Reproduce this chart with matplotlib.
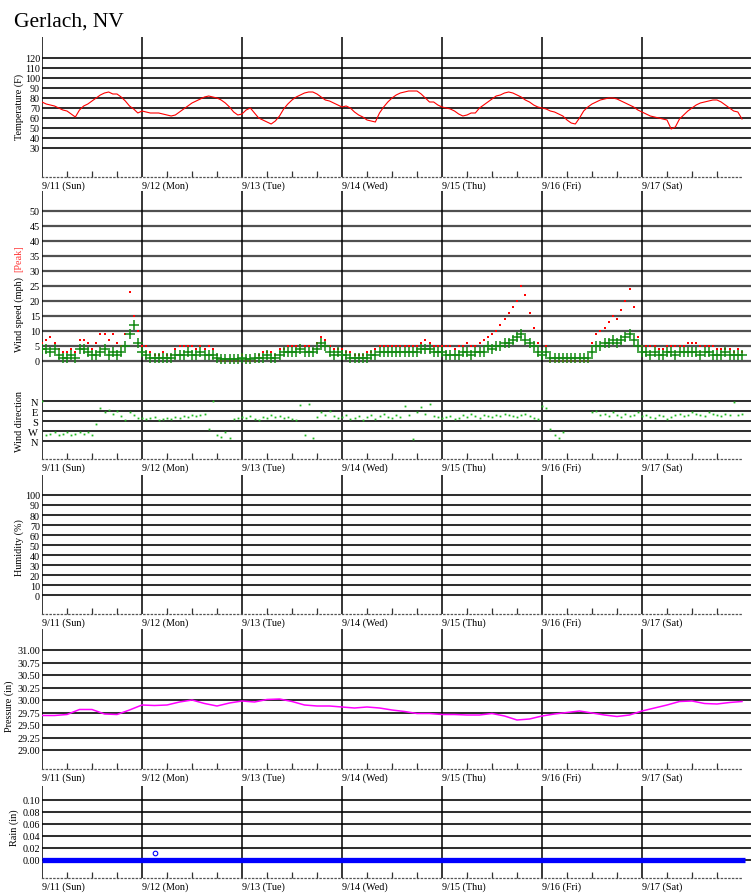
import numpy as np
import matplotlib
matplotlib.use("Agg")
import matplotlib.pyplot as plt
from matplotlib.ticker import FixedLocator

plt.rcParams['font.family'] = ['Liberation Serif', 'DejaVu Serif']

# ---------------- data ----------------
title = "Gerlach, NV"
day_labels = ["9/11 (Sun)", "9/12 (Mon)", "9/13 (Tue)", "9/14 (Wed)",
              "9/15 (Thu)", "9/16 (Fri)", "9/17 (Sat)"]

# hourly temperature (F), 9/11 00:00 .. 9/18 00:00
temp_f = [
    76, 74, 73, 72, 70, 68, 67, 64, 61, 68, 72, 74, 77, 80, 83, 85, 86, 84, 84, 81, 77, 72, 69, 65,
    67, 66, 65, 65, 65, 64, 63, 62, 63, 66, 69, 72, 75, 77, 79, 81, 82, 81, 80, 78, 75, 71, 66, 63,
    64, 68, 70, 65, 60, 58, 56, 54, 57, 62, 69, 74, 78, 81, 83, 85, 86, 86, 84, 81, 78, 77, 75, 73,
    71, 72, 70, 66, 63, 61, 58, 57, 56, 65, 71, 76, 80, 83, 85, 86, 87, 87, 87, 84, 80, 76, 76, 73,
    71, 70, 69, 67, 64, 62, 63, 65, 65, 70, 73, 76, 79, 82, 83, 85, 86, 85, 83, 81, 78, 76, 73, 71,
    70, 69, 67, 66, 64, 62, 58, 55, 54, 60, 67, 71, 74, 76, 78, 79, 80, 80, 79, 77, 75, 73, 71, 68,
    66, 64, 62, 61, 60, 59, 58, 49, 51, 59, 63, 67, 70, 73, 75, 76, 77, 78, 78, 76, 73, 70, 67, 66,
    59,
]

# hourly average wind speed (mph)
wind_avg = [
    4, 4, 3, 4, 2, 1, 1, 2, 1, 4, 4, 3, 2, 2, 3, 4, 2, 3, 2, 3, 5, 9, 12, 6,
    3, 2, 1, 1, 1, 1, 1, 1, 2, 2, 2, 3, 2, 2, 3, 2, 2, 2, 1, 0.5, 0.5, 0.5, 0.5, 0.5,
    1, 0.5, 0.5, 1, 1, 1, 2, 1, 1, 2, 3, 3, 3, 3, 4, 3, 3, 3, 4, 6, 5, 3, 2, 3,
    2, 2, 1, 1, 1, 1, 1, 2, 2, 3, 3, 3, 3, 3, 3, 3, 3, 3, 3, 4, 4, 4, 3, 3,
    3, 2, 2, 2, 2, 3, 3, 2, 3, 3, 3, 5, 4, 5, 5, 6, 6, 7, 8, 9, 7, 6, 5, 3,
    2, 3, 1, 1, 1, 1, 1, 1, 1, 1, 1, 1, 3, 5, 5, 6, 6, 7, 6, 7, 8, 9, 7, 5,
    3, 3, 2, 3, 2, 2, 3, 3, 2, 3, 3, 3, 3, 3, 2, 3, 3, 2, 2, 2, 3, 2, 2, 2,
    2,
]

# hourly peak wind speed (mph)
wind_peak = [
    6, 7, 8, 6, 4, 3, 3, 4, 3, 7, 7, 6, 4, 6, 9, 9, 7, 9, 6, 5, 9, 23, 15, 10,
    5, 5, 3, 2, 2, 3, 2, 2, 4, 5, 5, 5, 5, 4, 5, 4, 5, 4, 2, 0, 0, 0, 0, 0,
    2, 0, 0, 0, 2, 3, 3, 3, 2, 4, 4, 5, 5, 5, 5, 5, 5, 4, 6, 8, 7, 5, 4, 4,
    4, 3, 3, 2, 2, 2, 3, 3, 4, 5, 5, 5, 5, 5, 5, 5, 5, 5, 5, 6, 7, 6, 5, 5,
    5, 5, 5, 4, 5, 5, 6, 5, 5, 6, 7, 8, 9, 10, 12, 14, 16, 18, 20, 25, 22, 16, 11, 6,
    3, 5, 0, 0, 0, 0, 0, 0, 0, 0, 0, 0, 6, 9, 10, 11, 13, 15, 14, 17, 20, 24, 18, 8,
    5, 5, 5, 5, 4, 4, 5, 5, 5, 5, 5, 6, 6, 6, 5, 5, 5, 5, 4, 4, 4, 4, 3, 4,
    3,
]

nan = float("nan")
# hourly wind direction (degrees from north)
wind_dir = [
    0, 300, 290, 280, 300, 290, 280, 300, 290, 280, 290, 280, 300, 200, 60, 100, 80, 110, 90, 130, 170, 100, 120, 150,
    150, 160, 150, 140, 170, 160, 150, 160, 140, 150, 130, 140, 120, 130, 120, 110, 250, 0, 300, 320, 280, 330, 160, 150,
    140, 150, 130, 160, 170, 140, 150, 120, 140, 130, 150, 140, 160, 170, 30, 300, 20, 330, 140, 100, 120, 90, 130, 150,
    140, 120, 160, 150, 130, 170, 140, 120, 160, 130, 110, 140, 150, 120, 140, 40, 120, 340, 100, 50, 110, 20, 130, 140,
    150, 140, 130, 160, 150, 120, 140, 110, 130, 150, 120, 130, 140, 120, 130, 110, 120, 130, 140, 120, 110, 130, 150, 160,
    40, 60, 250, 300, 330, 280, nan, nan, nan, nan, nan, nan, 100, 90, 120, 110, 130, 100, 120, 140, 110, 130, 120, 100,
    130, 120, 140, 150, 120, 130, 160, 140, 120, 110, 130, 120, 100, 110, 120, 130, 100, 110, 120, 130, 110, 120, 10, 120,
    110,
]

humidity = []  # no humidity readings in this period

# 3-hourly barometric pressure (in)
pressure_in = [
    29.69, 29.69, 29.71, 29.81, 29.81, 29.72, 29.71, 29.80,
    29.90, 29.89, 29.90, 29.96, 30.00, 29.93, 29.88, 29.94,
    29.98, 29.96, 30.01, 30.02, 29.97, 29.90, 29.88, 29.88,
    29.86, 29.84, 29.86, 29.84, 29.80, 29.77, 29.73, 29.73,
    29.71, 29.71, 29.70, 29.70, 29.73, 29.68, 29.60, 29.62,
    29.68, 29.72, 29.75, 29.78, 29.74, 29.70, 29.67, 29.70,
    29.78, 29.84, 29.90, 29.97, 29.98, 29.93, 29.92, 29.95, 29.97,
]

# rain (in): continuous zero record and one small reading
rain_days = [0.0, 7.03]
rain_vals = [0.0, 0.0]
rain_mark_day = [1.13]
rain_mark_val = [0.011]

temp_ticks = [120, 110, 100, 90, 80, 70, 60, 50, 40, 30]
wind_ticks = [50, 45, 40, 35, 30, 25, 20, 15, 10, 5, 0]
dir_ticks = [0, 90, 180, 270, 360]
dir_labels = ["N", "E", "S", "W", "N"]
hum_ticks = [100, 90, 80, 70, 60, 50, 40, 30, 20, 10, 0]
pres_ticks = [31.00, 30.75, 30.50, 30.25, 30.00, 29.75, 29.50, 29.25, 29.00]
rain_ticks = [0.10, 0.08, 0.06, 0.04, 0.02, 0.00]

# ---------------- layout ----------------
W, H = 751, 895
fig = plt.figure(figsize=(W / 100, H / 100), dpi=100)
LEFT, RIGHT = 42, 751
FS = 7.3
GRID_C = "#303030"


def add_px_axes(top, bottom):
    return fig.add_axes([LEFT / W, 1 - bottom / H, (RIGHT - LEFT) / W, (bottom - top) / H])


xmax = (RIGHT - LEFT) / 100.0
hours = np.arange(len(temp_f)) / 24.0
hours_w = np.arange(len(wind_avg)) / 24.0
hours_p = np.arange(len(pressure_in)) / 8.0


def style_panel(ax, ylim, ticks, labels, grid_color=GRID_C, grid_lw=1.45, xlabels=True):
    ax.set_xlim(0, xmax)
    ax.set_ylim(*ylim)
    ax.patch.set_alpha(0)
    for s in ("top", "right", "left"):
        ax.spines[s].set_visible(False)
    for v in ticks:
        ax.axhline(v, color=grid_color, lw=grid_lw, zorder=1)
    ax.set_yticks(ticks)
    ax.set_yticklabels(labels, fontsize=FS)
    ax.tick_params(axis="y", length=0, pad=1.5)
    if xlabels:
        for d in range(7):
            ax.axvline(d, color="black", lw=1.1, zorder=2)
        sp = ax.spines["bottom"]
        sp.set_linestyle((0, (1, 2)))
        sp.set_color("#555555")
        sp.set_linewidth(0.9)
        sp.set_bounds(0, 7)
        ax.set_xticks(range(7))
        ax.set_xticklabels(day_labels, fontsize=FS)
        for lab in ax.get_xticklabels():
            lab.set_ha("left")
        ax.tick_params(axis="x", which="major", length=0, pad=2.5)
        minor = [d + q for d in range(7) for q in (0.25, 0.5, 0.75)]
        ax.xaxis.set_minor_locator(FixedLocator(minor))
        ax.tick_params(axis="x", which="minor", direction="in", length=4, width=0.9,
                       color="#333333")
    else:
        ax.spines["bottom"].set_visible(False)
        ax.set_xticks([])


# Title
fig.text(14 / W, 1 - 27 / H, title, fontsize=15.5, ha="left", va="baseline")

# Temperature panel
ax_t = add_px_axes(38, 178)
style_panel(ax_t, (1, 141), temp_ticks, [str(v) for v in temp_ticks])
ax_t.plot(hours, temp_f, color="#ff0000", lw=0.8, zorder=3)
fig.text(19 / W, 1 - 107 / H, "Temperature (F)", rotation=90, fontsize=FS,
         ha="center", va="center")

# Wind panel (speed + direction)
ax_w = add_px_axes(192, 460)
style_panel(ax_w, ((361.7 - 460) / 3, (361.7 - 192) / 3), wind_ticks,
            [str(v) for v in wind_ticks], grid_color="#505050", grid_lw=1.6)
ax_w.plot(hours_w, wind_peak, linestyle="none", marker="s", ms=1.7, mew=0,
          color="#ff0000", zorder=3)
ax_w.plot(hours_w, wind_avg, linestyle="none", marker="+", ms=6.5, mew=1.1,
          color="#138a13", zorder=4)

ax_d = add_px_axes(192, 460)
style_panel(ax_d, ((460 - 402.3) * 9, (192 - 402.3) * 9), dir_ticks, dir_labels,
            xlabels=False)
ax_d.tick_params(axis="y", labelsize=7.6, pad=3)
ax_d.plot(hours_w, wind_dir, linestyle="none", marker="s", ms=1.3, mew=0,
          color="#22bb22", zorder=3)

fig.text(19 / W, 1 - 315 / H, "Wind speed (mph)", rotation=90, fontsize=FS,
         ha="center", va="center")
fig.text(19 / W, 1 - 259 / H, "[Peak]", rotation=90, fontsize=FS, color="#ff3333",
         ha="center", va="center")
fig.text(19 / W, 1 - 422 / H, "Wind direction", rotation=90, fontsize=FS,
         ha="center", va="center")

# Humidity panel
ax_h = add_px_axes(476, 615)
style_panel(ax_h, (596 - 615, 596 - 476), hum_ticks, [str(v) for v in hum_ticks])
if humidity:
    ax_h.plot(hours[:len(humidity)], humidity, color="#00aa00", lw=0.8)
fig.text(19 / W, 1 - 548 / H, "Humidity (%)", rotation=90, fontsize=FS,
         ha="center", va="center")

# Pressure panel
ax_p = add_px_axes(630, 770)
style_panel(ax_p, (30 - (770 - 701) / 50, 30 - (630 - 701) / 50), pres_ticks,
            ["%.2f" % v for v in pres_ticks])
ax_p.plot(hours_p, pressure_in, color="#ff00ff", lw=1.1, zorder=3)
fig.text(9 / W, 1 - 706 / H, "Pressure (in)", rotation=90, fontsize=FS,
         ha="center", va="center")

# Rain panel
ax_r = add_px_axes(787, 879)
style_panel(ax_r, ((860.7 - 879) / 597, (860.7 - 787) / 597), rain_ticks,
            ["%.2f" % v for v in rain_ticks])
ax_r.plot(rain_days, rain_vals, color="#0000ff", lw=3.8, solid_capstyle="butt", zorder=3)
ax_r.plot(rain_mark_day, rain_mark_val, linestyle="none", marker="o", ms=3.3,
          mfc="none", mec="#0000ff", mew=0.8, zorder=3)
fig.text(14 / W, 1 - 828 / H, "Rain (in)", rotation=90, fontsize=FS,
         ha="center", va="center")

fig.savefig("out.png", dpi=100)
